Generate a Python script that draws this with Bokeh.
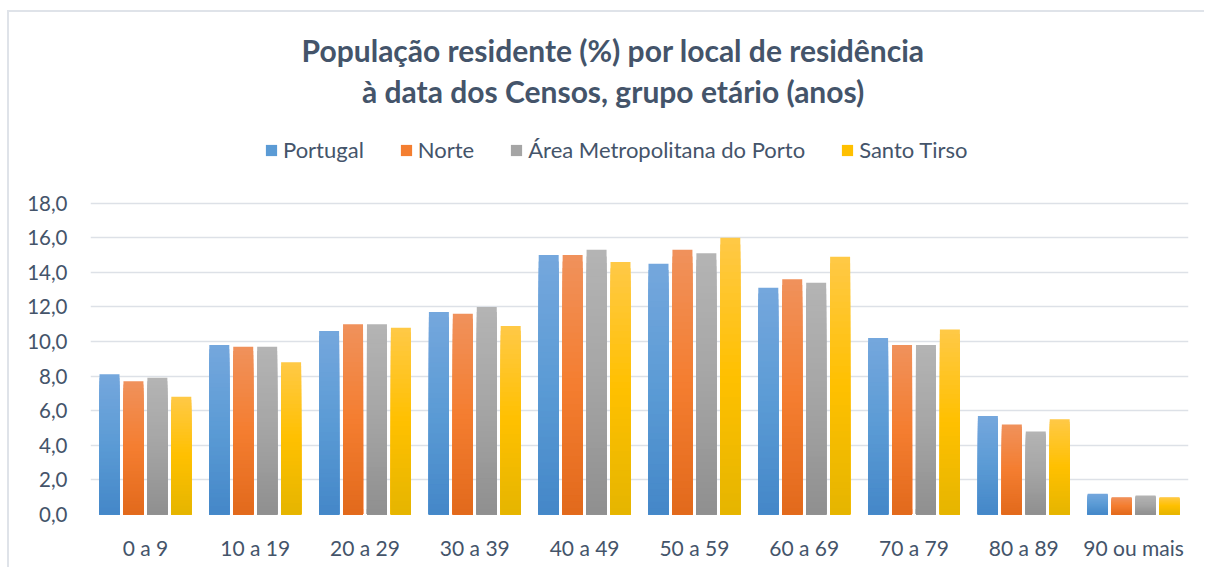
from bokeh.plotting import figure
from bokeh.models import (FactorRange, Label, Legend, LegendItem,
                          CustomJSTickFormatter, ColumnDataSource, FixedTicker, Range1d)
from bokeh.transform import dodge
from bokeh.embed import file_html
from bokeh.resources import INLINE

# ---------------- data ----------------
categories = ["0 a 9", "10 a 19", "20 a 29", "30 a 39", "40 a 49",
              "50 a 59", "60 a 69", "70 a 79", "80 a 89", "90 ou mais"]
series_names = ["Portugal", "Norte", "Área Metropolitana do Porto", "Santo Tirso"]
portugal = [8.1, 9.8, 10.6, 11.7, 15.0, 14.5, 13.1, 10.2, 5.7, 1.2]
norte = [7.7, 9.7, 11.0, 11.6, 15.0, 15.3, 13.6, 9.8, 5.2, 1.0]
amp = [7.9, 9.7, 11.0, 12.0, 15.3, 15.1, 13.4, 9.8, 4.8, 1.1]
santo_tirso = [6.8, 8.8, 10.8, 10.9, 14.6, 16.0, 14.9, 10.7, 5.5, 1.0]
y_ticks = [0, 2, 4, 6, 8, 10, 12, 14, 16, 18]
title_lines = ["População residente (%) por local de residência",
               "à data dos Censos, grupo etário (anos)"]

series_values = [portugal, norte, amp, santo_tirso]
# gradient stops: (top, middle, bottom)
series_colors = [
    ("#75A7DD", "#5B9BD5", "#4487C8"),
    ("#F0915C", "#F47E30", "#E2691C"),
    ("#B4B4B4", "#A5A5A5", "#8F8F8F"),
    ("#FFC947", "#FFC000", "#E5B500"),
]
offsets = [-0.327, -0.109, 0.109, 0.327]
BAR_W = 0.182
N_SLICES = 40

TEXT_COLOR = "#44546A"
FONT = "Lato"

FRAME_H = 502.3          # frame height in px (frame top at canvas top)
AXIS_PX = 311.6          # px for 0..18
Y_END = 18 * FRAME_H / AXIS_PX


def hex_to_rgb(h):
    h = h.lstrip("#")
    return tuple(int(h[i:i + 2], 16) for i in (0, 2, 4))


def mix(c1, c2, t):
    a, b = hex_to_rgb(c1), hex_to_rgb(c2)
    return "#%02x%02x%02x" % tuple(int(round(a[i] + (b[i] - a[i]) * t)) for i in range(3))


def grad_color(stops, f):
    top, mid, bot = stops
    if f < 0.5:
        return mix(bot, mid, f / 0.5)
    return mix(mid, top, (f - 0.5) / 0.5)


p = figure(x_range=FactorRange(factors=categories, range_padding=0),
           y_range=Range1d(0, Y_END), width=1197, height=557,
           output_backend="svg", toolbar_location=None,
           min_border_left=81, min_border_right=18,
           min_border_top=0, min_border_bottom=55)

p.styles = {"margin-left": "7px", "margin-top": "10px",
            "border-left": "2px solid #DFE3E9", "border-top": "2px solid #DFE3E9"}
p.outline_line_color = None
p.background_fill_color = "white"
p.border_fill_color = "white"

# grid
p.xgrid.grid_line_color = None
p.ygrid.ticker = FixedTicker(ticks=y_ticks)
p.ygrid.grid_line_color = "#DDE1E7"
p.ygrid.grid_line_width = 1.6
p.ygrid.level = "underlay"

# bars with vertical gradient: nested bars from tallest (lightest) to shortest
legend_items = []
for vals, stops, off, name in zip(series_values, series_colors, offsets, series_names):
    xs, tops, colors = [], [], []
    for cat, v in zip(categories, vals):
        for k in range(N_SLICES - 1, -1, -1):
            xs.append(cat)
            tops.append(v * (k + 1) / N_SLICES)
            colors.append(grad_color(stops, (k + 0.5) / N_SLICES))
    src = ColumnDataSource(dict(x=xs, top=tops, color=colors))
    p.vbar(x=dodge("x", off, range=p.x_range), bottom=0, top="top",
           width=BAR_W, fill_color="color", line_color=None, source=src)
    r = p.vbar(x=[categories[0]], top=[0], bottom=[0], width=0.001,
               fill_color=stops[1], line_color=None)
    legend_items.append(LegendItem(label=name, renderers=[r]))

# axes
p.yaxis.ticker = FixedTicker(ticks=y_ticks)
p.yaxis.formatter = CustomJSTickFormatter(code="return tick.toFixed(1).replace('.', ',');")
for ax in (p.xaxis[0], p.yaxis[0]):
    ax.axis_line_color = None
    ax.major_tick_line_color = None
    ax.minor_tick_line_color = None
    ax.major_label_text_color = TEXT_COLOR
    ax.major_label_text_font = FONT
    ax.major_label_text_font_size = "20.5px"
p.xaxis.major_label_text_font_size = "21px"
p.yaxis.major_label_standoff = 17
p.xaxis.major_label_standoff = 14

# title lines (centred on the whole chart area, not the plot frame)
TITLE_X = 4.76
for txt, yy in zip(title_lines, [26.82, 24.48]):
    p.add_layout(Label(x=TITLE_X, y=yy, text=txt, text_align="center",
                       text_baseline="middle", text_font=FONT, text_font_style="bold",
                       text_font_size="30px", text_color=TEXT_COLOR))

legend = Legend(items=legend_items, orientation="horizontal", location=(174, 351),
                glyph_width=14, glyph_height=14, label_standoff=5, spacing=35,
                padding=0, margin=0, border_line_color=None, background_fill_alpha=0,
                label_text_font=FONT, label_text_font_size="22px",
                label_text_color=TEXT_COLOR, label_height=20)
p.add_layout(legend, "center")

open("out.html", "w").write(file_html(p, INLINE))
